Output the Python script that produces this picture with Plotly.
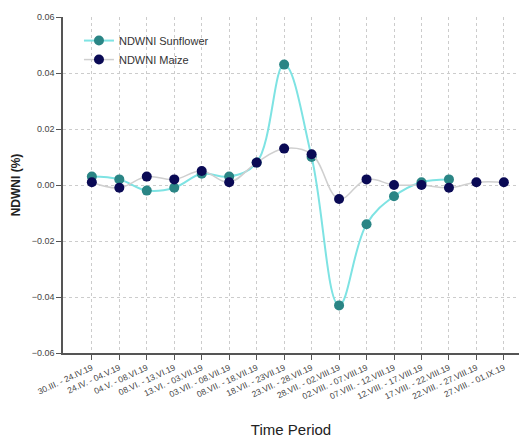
import plotly.graph_objects as go

categories = ["30.III. - 24.IV.19", "24.IV. - 04.V.19", "04.V. - 08.VI.19", "08.VI. - 13.VI.19",
              "13.VI. - 03.VII.19", "03.VII. - 08.VII.19", "08.VII. - 18.VII.19", "18.VII. - 23VII.19",
              "23.VII. - 28.VII.19", "28.VII. - 02.VIII.19", "02.VIII. - 07.VIII.19", "07.VIII. - 12.VIII.19",
              "12.VIII. - 17.VIII.19", "17.VIII. - 22.VIII.19", "22.VIII. - 27.VIII.19", "27.VIII. - 01.IX.19"]
sunflower = [0.003, 0.002, -0.002, -0.001, 0.004, 0.003, 0.008, 0.043, 0.010, -0.043, -0.014, -0.004,
             0.001, 0.002, None, None]
maize = [0.001, -0.001, 0.003, 0.002, 0.005, 0.001, 0.008, 0.013, 0.011, -0.005, 0.002, 0.000,
         0.000, -0.001, 0.001, 0.001]
y_ticks = [-0.06, -0.04, -0.02, 0.00, 0.02, 0.04, 0.06]

x = list(range(len(categories)))
fig = go.Figure()
fig.add_trace(go.Scatter(x=x, y=sunflower, name="NDWNI Sunflower", mode="lines+markers",
                         line=dict(color="#7ee3e3", width=2, shape="spline", smoothing=1.1),
                         marker=dict(color="#2a8585", size=10)))
fig.add_trace(go.Scatter(x=x, y=maize, name="NDWNI Maize", mode="lines+markers",
                         line=dict(color="#cfcfcf", width=1.5, shape="spline", smoothing=1.1),
                         marker=dict(color="#0a0a55", size=10)))

fig.update_layout(
    width=523, height=439, margin=dict(l=63, r=4, t=17, b=86),
    plot_bgcolor="white", paper_bgcolor="white",
    font=dict(family="Liberation Sans, Arial", color="#333"),
    legend=dict(x=0.035, y=0.973, xanchor="left", yanchor="top", bgcolor="rgba(0,0,0,0)",
                font=dict(size=11, color="#333"), itemwidth=30, tracegroupgap=0),
    showlegend=True,
)
fig.update_xaxes(tickmode="array", tickvals=x, ticktext=categories, tickangle=-25,
                 tickfont=dict(size=8.5, color="#444"), range=[-1.05, 15.55],
                 showgrid=True, gridcolor="#cccccc", griddash="dot", gridwidth=1,
                 showline=True, linecolor="#555", linewidth=1.5,
                 ticks="outside", ticklen=5, tickcolor="#555", zeroline=False,
                 title=dict(text="Time Period", font=dict(size=15, color="#222"), standoff=24))
fig.update_yaxes(tickvals=y_ticks, tickformat=".2f", range=[-0.06, 0.06],
                 tickfont=dict(size=9, color="#444"),
                 showgrid=True, gridcolor="#cccccc", griddash="dot", gridwidth=1,
                 showline=True, linecolor="#555", linewidth=1.5,
                 ticks="outside", ticklen=5, tickcolor="#555", zeroline=False,
                 title=dict(text="<b>NDWNI (%)</b>", font=dict(size=12, color="#222"), standoff=8))
fig.write_html("out.html")
